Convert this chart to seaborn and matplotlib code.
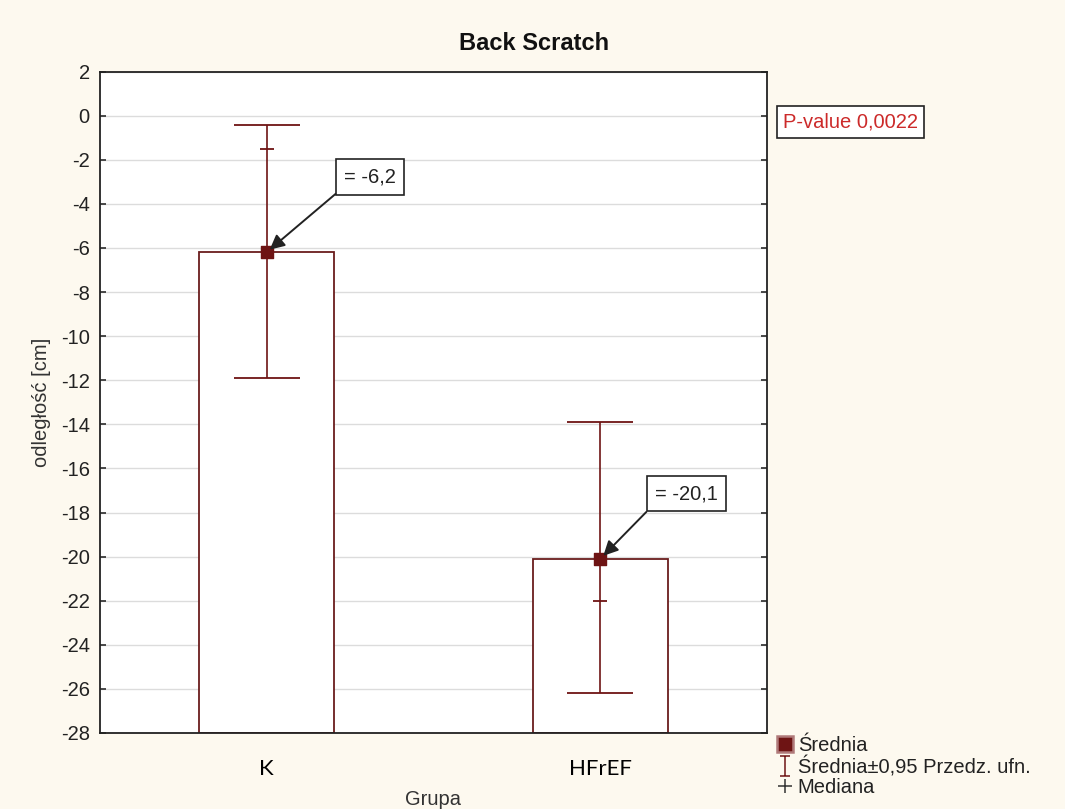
import matplotlib
matplotlib.use("Agg")
import matplotlib.pyplot as plt
from matplotlib.lines import Line2D
from matplotlib.path import Path
import numpy as np
import seaborn as sns

# Data: Back Scratch distance per group
groups = ["K", "HFrEF"]
means = [-6.2, -20.1]
ci_lower = [-11.9, -26.2]
ci_upper = [-0.4, -13.9]
medians = [-1.5, -22.0]
mean_labels = ["= -6,2", "= -20,1"]
p_value_text = "P-value 0,0022"
y_ticks = list(range(2, -29, -2))
baseline = -28

BG = "#fdf9ef"
DARK_RED = "#6e1414"
EDGE_RED = "#6a1c1c"
FS = 14.5

sns.set_theme(style="white")
plt.rcParams["font.family"] = ["Liberation Sans", "DejaVu Sans"]

fig = plt.figure(figsize=(10.65, 8.09), dpi=100, facecolor=BG)
ax = fig.add_axes([0.0935, 0.094, 0.627, 0.8175])
ax.set_facecolor("white")

heights = [m - baseline for m in means]
sns.barplot(x=groups, y=heights, bottom=baseline, ax=ax, width=0.405,
            color="white", edgecolor=EDGE_RED, linewidth=1.3, zorder=2)

xpos = np.arange(len(groups))
yerr = np.array([[m - lo for m, lo in zip(means, ci_lower)],
                 [hi - m for m, hi in zip(means, ci_upper)]])
ax.errorbar(xpos, means, yerr=yerr, fmt="none", ecolor=DARK_RED,
            elinewidth=1.2, capsize=24, capthick=1.3, zorder=3)
# medians as small crossbars
ax.scatter(xpos, medians, marker="_", s=90, color=DARK_RED, linewidths=1.3, zorder=4)
# means as filled squares
ax.scatter(xpos, means, marker="s", s=75, color=DARK_RED, edgecolors=DARK_RED, zorder=5)

ax.set_ylim(baseline, 2)
ax.set_xlim(-0.5, 1.5)
ax.set_yticks(y_ticks)
ax.set_yticklabels([str(t) for t in y_ticks], fontsize=FS, color="#222222")
ax.yaxis.grid(True, color="#dcdcdc", linewidth=1.0, zorder=0)
ax.set_axisbelow(True)
ax.tick_params(axis="y", which="both", direction="in", length=4, left=True, right=True,
               color="#333333", pad=7)
ax.tick_params(axis="x", direction="in", length=4, bottom=True, color="#333333", pad=19)
ax.set_xticks(xpos)
ax.set_xticklabels(groups, fontsize=16, family=["Lato", "DejaVu Sans"], color="black")
for s in ax.spines.values():
    s.set_color("#222222")
    s.set_linewidth(1.3)

ax.set_xlabel("Grupa", fontsize=FS, color="#333333", labelpad=8)
ax.set_ylabel("odległość [cm]", fontsize=FS, color="#333333", labelpad=7)
fig.text(0.501, 1 - 43 / 809, "Back Scratch", fontsize=17, fontweight="bold",
         color="#111111", ha="center", va="center")

# value callouts with arrows (text anchored at the box's upper-left corner)
label_pos = [(0.233, -2.35), (1.163, -16.72)]
for x, m, lab, (tx, ty) in zip(xpos, means, mean_labels, label_pos):
    ax.annotate(lab, xy=(x, m), xytext=(tx, ty), fontsize=FS, color="#222222",
                ha="left", va="top",
                bbox=dict(boxstyle="square,pad=0.4", fc="white", ec="#222222", lw=1.2),
                arrowprops=dict(arrowstyle="-|>", color="#222222", lw=1.4,
                                mutation_scale=22, shrinkA=0, shrinkB=3,
                                relpos=(0.0, 0.0)),
                zorder=6)

fig.text(0.735, 1 - 122 / 809, p_value_text, fontsize=FS, color="#cc2a2a",
         ha="left", va="center",
         bbox=dict(boxstyle="square,pad=0.3", fc="white", ec="#222222", lw=1.2))

# legend glyph for the confidence interval: a capped vertical bar
ci_path = Path([(-0.5, 1), (0.5, 1), (0, 1), (0, -1), (-0.5, -1), (0.5, -1)],
               [Path.MOVETO, Path.LINETO, Path.MOVETO, Path.LINETO, Path.MOVETO, Path.LINETO])
handles = [
    Line2D([], [], marker="s", color="none", markerfacecolor=DARK_RED,
           markeredgecolor="#b07a7a", markersize=11, markeredgewidth=1.8),
    Line2D([], [], marker=ci_path, color="none", markerfacecolor="none",
           markeredgecolor=DARK_RED, markersize=14, markeredgewidth=1.1),
    Line2D([], [], marker="+", color="none", markeredgecolor="#333333",
           markersize=10, markeredgewidth=1.1),
]
labels = ["Średnia", "Średnia±0,95 Przedz. ufn.", "Mediana"]
fig.legend(handles, labels, loc="lower left", bbox_to_anchor=(0.716, -0.003),
           frameon=False, fontsize=FS, handlelength=0.8, handletextpad=0.25,
           labelspacing=0.05, borderpad=0.2, labelcolor="#222222")

fig.savefig("out.png", dpi=100, facecolor=BG)
